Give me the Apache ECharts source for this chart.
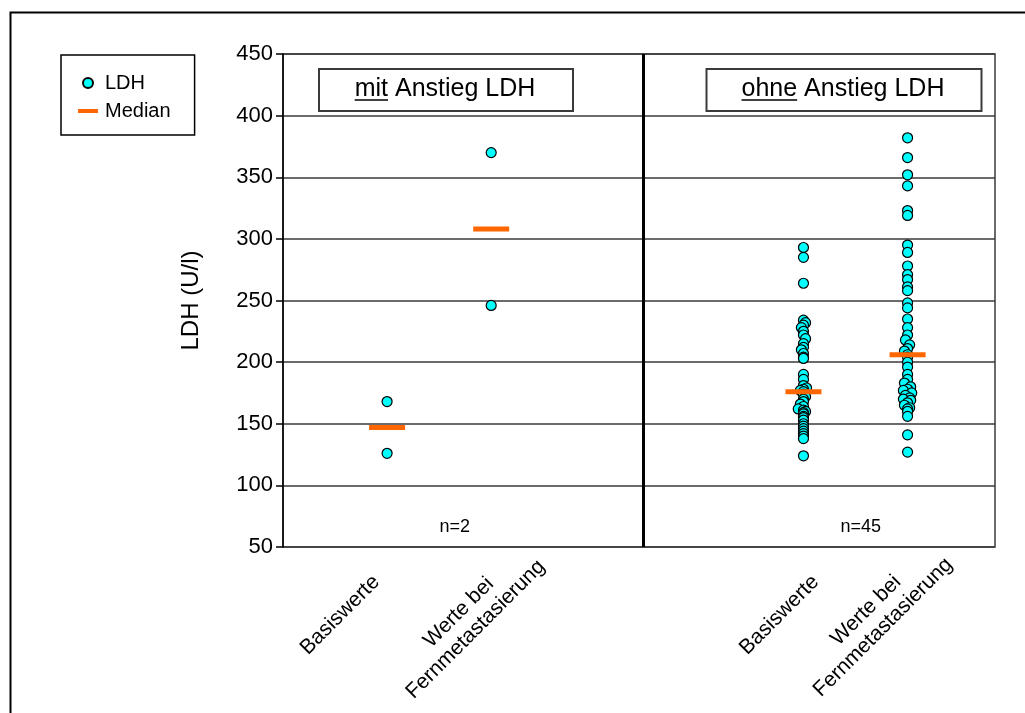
<!DOCTYPE html>
<html>
<head>
<meta charset="utf-8">
<script src="https://cdn.jsdelivr.net/npm/echarts@6/dist/echarts.min.js"></script>
<style>
  html, body { margin: 0; padding: 0; background: #ffffff; }
  #chart { width: 1025px; height: 713px; }
</style>
</head>
<body>
<div id="chart"></div>
<script>
// ---- data -------------------------------------------------------------
// x position of each measurement group on the (hidden) horizontal value axis
const groupPositions = [1, 2, 5, 6];
const categoryLabels = ['Basiswerte', 'Werte bei\nFernmetastasierung', 'Basiswerte', 'Werte bei\nFernmetastasierung'];
const panelTitles = [['mit', ' Anstieg LDH'], ['ohne', ' Anstieg LDH']];
const panelCounts = ['n=2', 'n=45'];
const yAxisName = 'LDH (U/l)';
const seriesNames = ['LDH', 'Median'];
const yMin = 50, yMax = 450, yStep = 50;

// LDH (U/l), patients with rising LDH
const mitBasis = [168, 126];
const mitFern = [370, 246];

// LDH (U/l), patients without rising LDH
const ohneBasis = [293, 285, 264, 234, 232, 230, 228, 225, 222, 219, 215, 212, 210, 207, 204, 203,
  190, 186, 181, 179, 178, 177, 176, 174, 172, 170, 168, 166, 164, 162, 161, 160, 159, 158, 156,
  155, 153, 150, 148, 146, 144, 142, 140, 138, 124];
const ohneFern = [382, 366, 352, 343, 323, 319, 295, 289, 278, 271, 267, 261, 258, 248, 244, 235,
  228, 222, 218, 214, 211, 209, 206, 204, 200, 196, 190, 186, 183, 180, 178, 177, 175, 173, 171,
  170, 169, 167, 165, 163, 162, 160, 156, 141, 127];

// small sideways offsets of overlapping dots
const ohneBasisShift = [0, 0, 0, 0, 0.02, 0, -0.02, 0, 0, 0.02, 0, 0, -0.02, 0, 0, 0,
  0, 0, 0, 0.03, 0, -0.03, 0, 0, 0.02, 0, 0, -0.03, 0, -0.05, 0, 0.02, 0, 0, 0,
  0, 0, 0, 0, 0, 0, 0, 0, 0, 0];
const ohneFernShift = [0, 0, 0, 0, 0, 0, 0, 0, 0, 0, 0, 0, 0, 0, 0, 0,
  0, 0, -0.02, 0.02, 0, -0.03, 0, 0, 0, 0, 0, 0, -0.03, 0.03, 0, -0.04, 0.04, -0.02, 0.02,
  -0.04, 0.03, 0, -0.03, 0.02, 0, 0, 0, 0, 0];

// ---- helpers ----------------------------------------------------------
function median(values) {
  const s = values.slice().sort((a, b) => a - b);
  const m = Math.floor(s.length / 2);
  return s.length % 2 ? s[m] : (s[m - 1] + s[m]) / 2;
}
const groups = [mitBasis, mitFern, ohneBasis, ohneFern];
const shifts = [null, null, ohneBasisShift, ohneFernShift];

const ldhPoints = [];
groups.forEach((vals, g) => {
  vals.forEach((v, i) => {
    const dx = shifts[g] ? shifts[g][i] : 0;
    ldhPoints.push([groupPositions[g] + dx, v]);
  });
});
const medianPoints = groups.map((vals, g) => [groupPositions[g], median(vals)]);

// ---- style ------------------------------------------------------------
const FONT = '"Liberation Sans", Arial, sans-serif';
const GRID = { left: 283, top: 54, right: 30, bottom: 166 };
const X_MAX = 6.84;        // right border of the plot on the hidden x scale
const DIVIDER_X = 3.46;    // vertical separator between the two panels

const chart = echarts.init(document.getElementById('chart'));

const option = {
  animation: false,
  backgroundColor: '#ffffff',
  grid: {
    left: GRID.left, top: GRID.top, right: GRID.right, bottom: GRID.bottom,
    show: true, borderColor: '#3a3a3a', borderWidth: 1.5, backgroundColor: 'transparent'
  },
  legend: {
    orient: 'vertical',
    left: 61, top: 55,
    padding: [18, 24, 14, 17],
    itemGap: 8,
    itemWidth: 20, itemHeight: 10,
    borderColor: '#000000', borderWidth: 1.5,
    textStyle: { fontFamily: FONT, fontSize: 20, color: '#000000', padding: [0, 0, 0, 2] },
    data: [
      { name: seriesNames[0], icon: 'circle' },
      { name: seriesNames[1], icon: 'path://M0,0h20v4h-20z' }
    ]
  },
  xAxis: {
    type: 'value', min: 0, max: X_MAX,
    axisLine: { show: false }, axisTick: { show: false },
    axisLabel: { show: false }, splitLine: { show: false }
  },
  yAxis: {
    type: 'value', min: yMin, max: yMax, interval: yStep,
    name: yAxisName, nameLocation: 'middle', nameGap: 80,
    nameTextStyle: { fontFamily: FONT, fontSize: 24, color: '#000000' },
    axisLine: { show: true, lineStyle: { color: '#000000', width: 1.5 } },
    axisTick: { show: true, length: 7, lineStyle: { color: '#000000', width: 1.5 } },
    axisLabel: { fontFamily: FONT, fontSize: 22, color: '#000000', margin: 10 },
    splitLine: { show: true, lineStyle: { color: '#3a3a3a', width: 1.5 } }
  },
  series: [
    {
      name: seriesNames[0],
      type: 'scatter',
      symbol: 'circle',
      symbolSize: 10,
      z: 3,
      itemStyle: { color: '#00ffff', borderColor: '#000000', borderWidth: 1.2, opacity: 1 },
      data: ldhPoints,
      markLine: {
        silent: true, symbol: 'none', animation: false,
        label: { show: false },
        lineStyle: { color: '#000000', width: 3, type: 'solid' },
        data: [{ xAxis: DIVIDER_X }]
      }
    },
    {
      name: seriesNames[1],
      type: 'scatter',
      symbol: 'rect',
      symbolSize: [36, 5],
      z: 4,
      itemStyle: { color: '#ff6600', opacity: 1 },
      data: medianPoints
    }
  ]
};
chart.setOption(option);

// ---- annotations: panel titles, counts, category labels ----------------
function textWidth(str, size) {
  const c = document.createElement('canvas').getContext('2d');
  c.font = size + 'px ' + FONT;
  return c.measureText(str).width;
}

const graphics = [];

// outer frame of the figure
graphics.push({
  type: 'rect', left: 8, top: 10, z: 0,
  shape: { width: 1040, height: 720 },
  style: { fill: 'none', stroke: '#000000', lineWidth: 2 }
});

// panel titles in boxes, first word underlined
const titleBoxes = [
  { cx: 445, cy: 89, w: 254, h: 42 },
  { cx: 843, cy: 89, w: 275, h: 42 }
];
const TITLE_SIZE = 25;
panelTitles.forEach((parts, i) => {
  const b = titleBoxes[i];
  graphics.push({
    type: 'rect', left: b.cx - b.w / 2, top: b.cy - b.h / 2, z: 10,
    shape: { width: b.w, height: b.h },
    style: { fill: '#ffffff', stroke: '#3a3a3a', lineWidth: 2 }
  });
  const full = parts[0] + parts[1];
  const wAll = textWidth(full, TITLE_SIZE);
  const wFirst = textWidth(parts[0], TITLE_SIZE);
  const x0 = b.cx - wAll / 2;
  graphics.push({
    type: 'text', x: b.cx, y: b.cy, z: 11,
    style: {
      text: full, fontFamily: FONT, fontSize: TITLE_SIZE, fill: '#000000',
      textAlign: 'center', textVerticalAlign: 'middle'
    }
  });
  graphics.push({
    type: 'line', z: 11,
    shape: { x1: x0, y1: b.cy + 11, x2: x0 + wFirst, y2: b.cy + 11 },
    style: { stroke: '#000000', lineWidth: 1.5 }
  });
});

// group sizes, near the bottom of each panel
const countAnchors = [[1.65, 66], [5.55, 66]];
panelCounts.forEach((t, i) => {
  const p = chart.convertToPixel({ gridIndex: 0 }, countAnchors[i]);
  graphics.push({
    type: 'text', x: p[0], y: p[1], z: 11,
    style: {
      text: t, fontFamily: FONT, fontSize: 18, fill: '#000000',
      textAlign: 'center', textVerticalAlign: 'middle'
    }
  });
});

// rotated category labels under each group
const labelOffsets = [[-47, 68], [-24, 74], [-24, 68], [-33, 72]];
groupPositions.forEach((gx, i) => {
  const p = chart.convertToPixel({ gridIndex: 0 }, [gx, yMin]);
  graphics.push({
    type: 'text',
    x: p[0] + labelOffsets[i][0], y: p[1] + labelOffsets[i][1],
    rotation: Math.PI / 4, z: 11,
    style: {
      text: categoryLabels[i], fontFamily: FONT, fontSize: 21, fill: '#000000',
      textAlign: 'center', textVerticalAlign: 'middle', lineHeight: 24
    }
  });
});

chart.setOption({ graphic: graphics });
</script>
</body>
</html>
